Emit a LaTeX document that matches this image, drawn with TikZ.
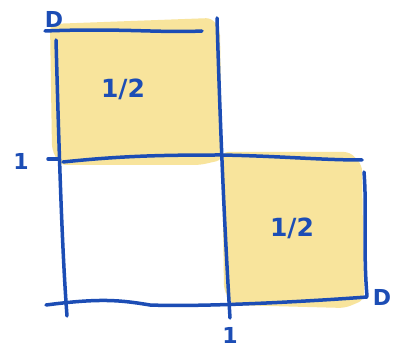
\documentclass[tikz,border=0pt]{standalone}
\usepackage{fontspec}
\setmainfont{DejaVu Sans}
\definecolor{pen}{HTML}{1C4DB5}
\definecolor{hl}{HTML}{F8E49C}
\begin{document}
\begin{tikzpicture}[x=1pt,y=-1pt,
  stroke/.style={draw=pen,line width=3.5pt,line cap=round,line join=round},
  fillarea/.style={fill=hl,draw=none,rounded corners=6pt},
  lbl/.style={text=pen,font=\bfseries\fontsize{22}{22}\selectfont,inner sep=0pt},
  frac/.style={text=pen,font=\bfseries\fontsize{25}{25}\selectfont,inner sep=0pt}]
\useasboundingbox[fill=white] (0,0) rectangle (404,352);
% highlighted regions
\fill[fillarea] (50,24) -- (212,18) -- (220,30) -- (222,160) -- (200,165) -- (60,165) -- (52,150) -- cycle;
\fill[fillarea] (222,152) -- (350,152) -- (362,165) -- (364,300) -- (345,308) -- (232,305) -- (224,290) -- cycle;
% grid lines
\draw[stroke] (45,31) .. controls (120,28) and (160,33) .. (202,31);
\draw[stroke] (56,40) .. controls (59,150) and (62,250) .. (67,316);
\draw[stroke] (48,159) -- (58,159);
\draw[stroke] (63,162) .. controls (120,156) and (160,155) .. (220,155) .. controls (280,156) and (320,160) .. (362,160);
\draw[stroke] (46,305) .. controls (100,298) and (120,300) .. (150,305) .. controls (200,307) and (300,302) .. (367,297);
\draw[stroke] (217,18) .. controls (220,120) and (224,220) .. (230,318);
\draw[stroke] (364,172) .. controls (367,210) and (363,250) .. (367,296);
% labels
\node[lbl] (o1) at (54,19) {D};
\node[lbl] (one1) at (21,161) {1};
\node[lbl] (one2) at (230,335) {1};
\node[lbl] (o2) at (382,297) {D};
\node[frac] (h1) at (123,89) {1/2};
\node[frac] (h2) at (292,228) {1/2};
\end{tikzpicture}
\end{document}
